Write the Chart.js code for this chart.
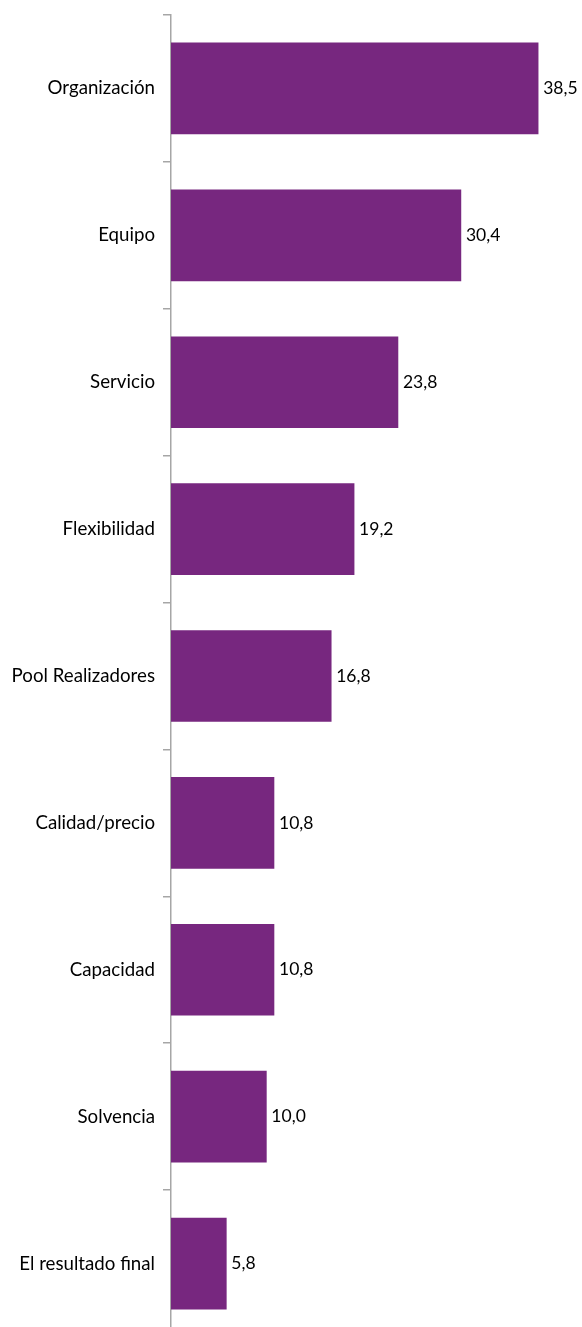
<!DOCTYPE html>
<html lang="es">
<head>
  <meta charset="UTF-8" />
  <title>Valoración</title>
  <script src="https://cdn.jsdelivr.net/npm/chart.js"></script>
  <style>
    html, body {
      margin: 0;
      padding: 0;
      background: #fff;
      overflow: hidden;
    }
    .wrap {
      position: relative;
      width: 582px;
      height: 1337px;
    }
  </style>
</head>
<body>
  <div class="wrap">
    <canvas id="chart"></canvas>
  </div>

  <script>
    // Datos
    const categorias = ['Organización', 'Equipo', 'Servicio', 'Flexibilidad', 'Pool Realizadores',
      'Calidad/precio', 'Capacidad', 'Solvencia', 'El resultado final'];
    const valores = [38.5, 30.4, 23.8, 19.2, 16.8, 10.8, 10.8, 10.0, 5.8];

    const fuente = "'Lato', 'DejaVu Sans', sans-serif";

    // Etiquetas de valor al final de cada barra
    const etiquetas = {
      id: 'etiquetas',
      afterDatasetsDraw(chart) {
        const ctx = chart.ctx;
        const meta = chart.getDatasetMeta(0);
        ctx.save();
        ctx.font = '17.5px ' + fuente;
        ctx.fillStyle = '#000';
        ctx.textAlign = 'left';
        ctx.textBaseline = 'middle';
        meta.data.forEach((bar, i) => {
          const txt = valores[i].toFixed(1).replace('.', ',');
          ctx.fillText(txt, bar.x + 5, bar.y);
        });
        ctx.restore();
      }
    };

    new Chart(document.getElementById('chart'), {
      type: 'bar',
      data: {
        labels: categorias,
        datasets: [{
          data: valores,
          backgroundColor: '#77277f',
          barThickness: 91
        }]
      },
      options: {
        indexAxis: 'y',
        responsive: true,
        maintainAspectRatio: false,
        animation: false,
        layout: { padding: { top: 15, right: 0, bottom: 0, left: 0 } },
        plugins: {
          legend: { display: false },
          tooltip: { enabled: false }
        },
        scales: {
          x: {
            display: false,
            min: 0,
            max: 43.1
          },
          y: {
            afterFit(scale) {
              scale.width = 171;
              scale.paddingTop = 0;
              scale.paddingBottom = 0;
            },
            border: { display: true, color: '#a6a6a6', width: 1.5 },
            grid: {
              offset: true,
              drawOnChartArea: false,
              drawTicks: true,
              tickLength: 8,
              color: '#a6a6a6',
              lineWidth: 1.5
            },
            ticks: {
              padding: 8,
              color: '#000',
              font: { family: fuente, size: 18.7 }
            }
          }
        }
      },
      plugins: [etiquetas]
    });
  </script>
</body>
</html>
